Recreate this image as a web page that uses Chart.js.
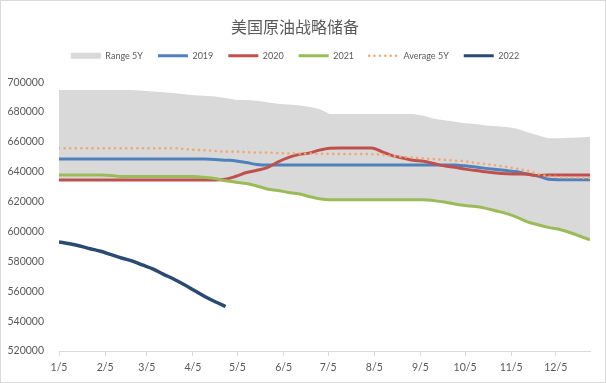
<!DOCTYPE html>
<html><head><meta charset="utf-8">
<script src="https://cdn.jsdelivr.net/npm/chart.js@4/dist/chart.umd.min.js"></script>
<style>html,body{margin:0;padding:0;background:#fff;}canvas{display:block;}</style>
</head><body>
<canvas id="c" width="606" height="383"></canvas>
<script>
const chartTitle = '美国原油战略储备';
const weeks = ['1/5','1/12','1/19','1/26','2/2','2/9','2/16','2/23','3/2','3/9','3/16','3/23','3/30',
  '4/6','4/13','4/20','4/27','5/4','5/11','5/18','5/25','6/1','6/8','6/15','6/22','6/29',
  '7/6','7/13','7/20','7/27','8/3','8/10','8/17','8/24','8/31','9/7','9/14','9/21','9/28',
  '10/5','10/12','10/19','10/26','11/2','11/9','11/16','11/23','11/30','12/7','12/14','12/21','12/28'];
const xTickLabels = ['1/5','2/5','3/5','4/5','5/5','6/5','7/5','8/5','9/5','10/5','11/5','12/5'];
const yTicks = [520000,540000,560000,580000,600000,620000,640000,660000,680000,700000];

const range5yHigh = [694700,694700,694700,694700,694700,694700,694700,694700,694300,693800,693300,692700,692000,
  691300,691000,690500,689500,688300,688000,687500,686500,685500,685000,684500,683500,682000,
  678700,678700,678700,678700,678700,678700,678700,678700,678700,677500,675500,674500,673500,
  672500,672000,671000,670500,670000,668800,666500,664500,662500,662500,662800,663000,663500];
const range5yLow = [634500,634500,634500,634500,634500,634500,634500,634500,634500,634500,634500,634500,634500,
  634500,634500,634500,634000,633000,632200,630500,628500,627500,626200,625300,623500,622000,
  621300,621300,621300,621300,621300,621300,621300,621300,621300,621300,620700,619800,618500,
  617500,616700,615500,613800,612000,609500,606500,604500,602800,601500,599500,597000,594500];
const y2019 = [648500,648500,648500,648500,648500,648500,648500,648500,648500,648500,648500,648500,648500,
  648500,648500,648300,647800,647300,646200,644900,644500,644500,644500,644500,644500,644500,
  644500,644500,644500,644500,644500,644500,644500,644500,644500,644500,644500,644500,644500,
  644000,643200,642300,641500,640800,640000,638500,637200,635000,634700,634700,634700,634700];
const y2020 = [634500,634500,634500,634500,634500,634500,634500,634500,634500,634500,634500,634500,634500,
  634500,634500,634500,635000,637000,639500,641000,642800,646500,649500,651500,652500,654500,
  655800,656000,656000,656000,656000,653500,650800,649300,647800,647000,645500,644000,643000,
  641800,640800,640000,639200,638700,638500,638300,637500,637800,637800,637800,637800,637800];
const y2021 = [637800,637800,637800,637800,637800,637500,636800,636800,636800,636800,636800,636800,636800,
  636800,636300,635500,634000,633000,632200,630500,628500,627500,626200,625300,623500,622000,
  621300,621300,621300,621300,621300,621300,621300,621300,621300,621300,620700,619800,618500,
  617500,616700,615500,613800,612000,609500,606500,604500,602800,601500,599500,597000,594500];
const avg5y = [655800,655800,655800,655800,655800,655800,655800,655800,655800,655800,655800,655800,655300,
  654700,654500,654000,653500,653500,653200,652900,652900,652500,652300,652200,652200,652100,
  652000,652000,651900,651900,651800,651500,650500,650000,649500,649000,648500,648000,647500,
  647000,646000,645200,644300,643300,642000,640700,638500,637000,636500,636200,636000,635800];
const y2022 = [593000,591800,590300,588500,586800,584500,582300,580300,577600,575000,571500,568200,564500,
  560500,556500,553000,549800];

const monthStart = [0,31,59,90,120,151,181,212,243,273,304,334];
function dayOf(s){ const p = s.split('/').map(Number); return monthStart[p[0]-1] + p[1] - 5; }
const xs = weeks.map(dayOf);
const xTickDays = xTickLabels.map(dayOf);
const pts = arr => arr.map((v,i) => ({x: xs[i], y: v}));

const C = {range:'#D9D9D9', c2019:'#4F81BD', c2020:'#C0504D', c2021:'#9BBB59', avg:'#F3A66C', c2022:'#2A4A72'};
const lineDs = (label, data, color, order, extra) => Object.assign({
  label, data: pts(data), borderColor: color, backgroundColor: color, borderWidth: 3,
  pointRadius: 0, fill: false, cubicInterpolationMode: 'monotone', order
}, extra || {});

const legendItems = [
  {text:'Range 5Y', fillStyle:C.range, strokeStyle:C.range, lineWidth:0, pointStyle:'rect', hidden:false, fontColor:'#595959'},
  {text:'2019', fillStyle:C.c2019, strokeStyle:C.c2019, lineWidth:3, pointStyle:'line', hidden:false, fontColor:'#595959'},
  {text:'2020', fillStyle:C.c2020, strokeStyle:C.c2020, lineWidth:3, pointStyle:'line', hidden:false, fontColor:'#595959'},
  {text:'2021', fillStyle:C.c2021, strokeStyle:C.c2021, lineWidth:3, pointStyle:'line', hidden:false, fontColor:'#595959'},
  {text:'Average 5Y', fillStyle:C.avg, strokeStyle:C.avg, lineWidth:2.5, pointStyle:'line', lineDash:[0,5.4], lineCap:'round', hidden:false, fontColor:'#595959'},
  {text:'2022', fillStyle:C.c2022, strokeStyle:C.c2022, lineWidth:3, pointStyle:'line', hidden:false, fontColor:'#595959'}
];

const LEGEND_GAP = 12;
const framePlugin = {
  id: 'frame',
  beforeLayout(chart){
    const lg = chart.legend;
    if (lg && !lg._gapPatched){
      const f = lg.fit;
      lg.fit = function(){ f.call(this); this.height += LEGEND_GAP; };
      lg._gapPatched = true;
    }
  },
  beforeDraw(chart){
    const ctx = chart.ctx; ctx.save(); ctx.fillStyle = '#fff'; ctx.fillRect(0,0,chart.width,chart.height); ctx.restore();
  },
  afterDraw(chart){
    const ctx = chart.ctx; ctx.save(); ctx.strokeStyle = '#D9D9D9'; ctx.lineWidth = 1;
    ctx.strokeRect(0.5, 0.5, chart.width - 1, chart.height - 1); ctx.restore();
  }
};

new Chart(document.getElementById('c'), {
  type: 'line',
  data: {
    datasets: [
      lineDs('2022', y2022, C.c2022, 1, {borderWidth: 3.5}),
      lineDs('Average 5Y', avg5y, C.avg, 2, {borderWidth: 2.6, borderDash:[0,5.6], borderCapStyle:'round'}),
      lineDs('2021', y2021, C.c2021, 3),
      lineDs('2020', y2020, C.c2020, 4),
      lineDs('2019', y2019, C.c2019, 5),
      {label:'Range 5Y', data: pts(range5yHigh), borderWidth:0, borderColor:'rgba(0,0,0,0)', backgroundColor:C.range,
        pointRadius:0, fill:'+1', tension:0, order:6},
      {label:'range low', data: pts(range5yLow), borderWidth:0, borderColor:'rgba(0,0,0,0)', backgroundColor:C.range,
        pointRadius:0, fill:false, tension:0, order:7}
    ]
  },
  options: {
    responsive: false, animation: false, devicePixelRatio: 1,
    layout: {padding: {left:0, right:16, top:0, bottom:0}},
    plugins: {
      tooltip: {enabled:false},
      title: {display:true, text: chartTitle, color:'#595959',
        font:{family:"'Noto Sans CJK SC', sans-serif", size:16, weight:'normal', lineHeight:1.2},
        padding:{top:17, bottom:0}},
      legend: {display:true, position:'top', onClick: null,
        labels: {usePointStyle:true, pointStyleWidth:30, boxHeight:6, padding:15, color:'#595959',
          font:{family:"Lato, 'Liberation Sans', sans-serif", size:9},
          generateLabels: () => legendItems}}
    },
    scales: {
      x: {type:'linear', min: xs[0], max: xs[xs.length-1], offset:false,
        afterBuildTicks: ax => { ax.ticks = xTickDays.map(v => ({value:v})); },
        afterFit: sc => { sc.height = 32; },
        ticks: {autoSkip:false, maxRotation:0, padding:5, color:'#595959',
          font:{family:"Lato, 'Liberation Sans', sans-serif", size:10.5},
          callback: (v, i) => xTickLabels[i]},
        grid: {display:true, drawOnChartArea:false, drawTicks:true, tickLength:5, color:'#D9D9D9'},
        border: {display:true, color:'#D9D9D9'}
      },
      y: {type:'linear', min: yTicks[0], max: yTicks[yTicks.length-1],
        afterBuildTicks: ax => { ax.ticks = yTicks.map(v => ({value:v})); },
        afterFit: sc => { sc.width = 59; },
        ticks: {padding:15, color:'#595959', font:{family:"Lato, 'Liberation Sans', sans-serif", size:10.5},
          callback: v => String(v)},
        grid: {display:false, drawTicks:false},
        border: {display:false}
      }
    }
  },
  plugins: [framePlugin]
});
</script>
</body></html>
